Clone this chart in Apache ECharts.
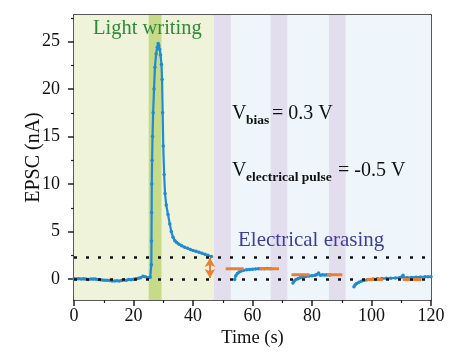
<!DOCTYPE html>
<html><head><meta charset="utf-8">
<script src="https://cdn.jsdelivr.net/npm/echarts@6/dist/echarts.min.js"></script>
<style>html,body{margin:0;padding:0;background:#fff}#c{width:450px;height:353px}</style>
</head><body><div id="c"></div>
<script>
// ---- data ----
const writingTime = [0,0.8,1.6,2.4,3.2,4,4.8,5.6,6.4,7.2,8,8.8,9.6,10.4,11.2,12,12.8,13.6,14.4,15.2,16,16.8,17.6,18.4,19.2,20,20.8,21.6,22.4,23.2,24,24.8,25.6,
  26.0,26.05,26.1,26.15,26.25,26.4,26.6,26.9,27.2,27.6,28.0,28.3,28.5,28.8,29.1,29.4,29.6,29.8,30.0,30.3,30.6,31.0,31.6,32.2,32.7,33.3,33.9,34.5,35.3,36.2,37.2,38.2,39.1,40,41,42,43,44,45,46.2];
const writingEPSC = [0.05,0.02,0.05,0,0.03,0,-0.03,0,0.02,0,-0.05,-0.08,-0.1,-0.12,-0.12,-0.15,-0.2,-0.2,-0.18,-0.2,-0.15,-0.1,-0.12,-0.05,-0.08,-0.02,0.03,0.08,0.15,0.3,0.25,0.15,0.2,
  1.5,4,7,10,12.5,15,17.5,20,22.3,23.7,24.4,24.8,24.6,24.2,23.6,22.6,21.0,17.5,14.0,11.0,9.0,7.8,6.8,5.8,5.0,4.4,4.05,3.85,3.68,3.5,3.35,3.24,3.12,3.0,2.92,2.82,2.72,2.62,2.5,2.38];
const erase1Time = [54.0,54.4,54.9,55.5,56.2,57,58,59,60,61,62,63,64,65,66];
const erase1EPSC = [-0.05,0.35,0.6,0.75,0.85,0.93,0.98,1.02,1.05,1.07,1.08,1.1,1.1,1.12,1.1];
const erase2Time = [73.6,74,74.6,75.3,76,77,78,79,80,81,81.5,82.2,82.8,83.5,84.3,85,86];
const erase2EPSC = [-0.4,-0.2,-0.05,0.05,0.15,0.22,0.28,0.32,0.36,0.4,0.45,0.65,0.4,0.45,0.42,0.45,0.42];
const erase3Time = [94.1,94.5,95,95.8,96.6,97.5,98.5,99.5,100.5,102,103.5,105,106.5,108,109.5,110.2,110.6,111,112,113.5,115,116.5,118,119,120];
const erase3EPSC = [-0.8,-0.6,-0.45,-0.32,-0.22,-0.15,-0.08,-0.03,0,0.03,0.06,0.08,0.1,0.12,0.15,0.25,0.4,0.15,0.15,0.18,0.2,0.22,0.25,0.25,0.25];
// fitted plateau levels: [start, end, level]
const fitSegments = [[51,57,1.1],[62.4,68.9,1.1],[73.1,79.2,0.45],[85,90.2,0.45],[98.3,103.8,-0.05],[110.5,116.8,-0.05]];
const refLevels = [0, 2.35];
const arrowTime = 45.7, arrowFrom = 0.12, arrowTo = 2.22;
const writingRegion = [0, 47];
const lightPulse = [25.1, 29.4];
const erasingRegion = [47, 120];
const electricPulses = [[47,52.7],[66.1,71.7],[85.7,91.3]];
const yMajorTicks = [0,5,10,15,20,25];
const yMinorTicks = [2.5,7.5,12.5,17.5,22.5,27.5];

const FONT = '"Liberation Serif","Times New Roman",serif';
const BLUE = '#1f8bd4', ORANGE = '#ef7d31';

const zip = (a,b) => a.map((v,i)=>[v,b[i]]);
const segments = [zip(writingTime,writingEPSC), zip(erase1Time,erase1EPSC), zip(erase2Time,erase2EPSC), zip(erase3Time,erase3EPSC)];
const fitData = [];
fitSegments.forEach((s,i)=>{ if(i) fitData.push([null,null]); fitData.push([s[0],s[2]],[s[1],s[2]]); });

const areas = [
  [{xAxis:writingRegion[0], itemStyle:{color:'#eef3d9'}},{xAxis:writingRegion[1]}],
  [{xAxis:erasingRegion[0], itemStyle:{color:'#eef6fb'}},{xAxis:erasingRegion[1]}],
  [{xAxis:lightPulse[0], itemStyle:{color:'#c6da88'}},{xAxis:lightPulse[1]}]
].concat(electricPulses.map(p=>[{xAxis:p[0], itemStyle:{color:'#e2deee'}},{xAxis:p[1]}]));

const series = segments.map((d,i)=>({
  type:'line', data:d, xAxisIndex:0, yAxisIndex:0,
  symbol:'circle', symbolSize:3.5, showSymbol:true, z:3,
  itemStyle:{color:BLUE}, lineStyle:{color:BLUE, width:2.2}, animation:false, silent:true,
  markArea: i===0 ? {silent:true, data:areas, z:1} : undefined
}));
series.push({
  type:'line', data:fitData, connectNulls:false, symbol:'none', z:4, animation:false, silent:true,
  lineStyle:{color:ORANGE, width:3}, itemStyle:{color:ORANGE},
  markLine:{silent:true, symbol:['arrow','arrow'], symbolSize:[8,9], label:{show:false},
    lineStyle:{color:ORANGE, width:2, type:'solid'},
    data:[[{coord:[arrowTime,arrowFrom]},{coord:[arrowTime,arrowTo]}]]}
});
series.push({
  type:'line', data:[], z:5, animation:false, silent:true,
  markLine:{silent:true, symbol:'none', label:{show:false},
    lineStyle:{color:'#111', width:2.5, type:[3,9]},
    data:refLevels.map(v=>({yAxis:v}))}
});

const chart = echarts.init(document.getElementById('c'), null, {renderer:'canvas'});
chart.setOption({
  animation:false,
  grid:{left:74, right:19, top:15, bottom:50},
  xAxis:[{
    type:'value', min:0, max:120, interval:20, position:'bottom',
    name:'Time (s)', nameLocation:'middle', nameGap:29, nameMoveOverlap:false,
    nameTextStyle:{fontFamily:FONT, fontSize:18.5, color:'#111'},
    axisLine:{onZero:false, lineStyle:{color:'#222', width:1.5}},
    axisTick:{inside:false, length:6, lineStyle:{color:'#222', width:1.5}},
    minorTick:{show:true, splitNumber:2, length:3, lineStyle:{color:'#222', width:1.2}},
    axisLabel:{fontFamily:FONT, fontSize:18, color:'#111', margin:7},
    splitLine:{show:false}
  },{
    type:'value', min:0, max:120, position:'top',
    axisLine:{onZero:false, lineStyle:{color:'#222', width:1.5}},
    axisTick:{show:false}, axisLabel:{show:false}, splitLine:{show:false}
  }],
  yAxis:[{
    type:'value', min:-2.2, max:27.8, position:'left',
    name:'EPSC (nA)', nameLocation:'middle', nameGap:30, nameRotate:90, nameMoveOverlap:false,
    nameTextStyle:{fontFamily:FONT, fontSize:20, color:'#111'},
    axisLine:{onZero:false, lineStyle:{color:'#222', width:1.5}},
    axisTick:{inside:false, length:6, customValues:yMajorTicks, lineStyle:{color:'#222', width:1.5}},
    axisLabel:{fontFamily:FONT, fontSize:18, color:'#111', margin:14, customValues:yMajorTicks},
    splitLine:{show:false}
  },{
    type:'value', min:-2.2, max:27.8, position:'left',
    axisLine:{show:false}, axisLabel:{show:false}, splitLine:{show:false},
    axisTick:{show:true, length:3, customValues:yMinorTicks, lineStyle:{color:'#222', width:1.2}}
  },{
    type:'value', min:-2.2, max:27.8, position:'right',
    axisLine:{onZero:false, lineStyle:{color:'#222', width:1.5}},
    axisTick:{show:false}, axisLabel:{show:false}, splitLine:{show:false}
  }],
  series:series,
  graphic:[
    {type:'text', x:93, y:29, z:10, style:{text:'Light writing', fontFamily:FONT, fontSize:20.5, fill:'#2f8a3c', verticalAlign:'middle'}},
    {type:'text', x:238, y:240, z:10, style:{text:'Electrical erasing', fontFamily:FONT, fontSize:21, fill:'#3d3d9e', verticalAlign:'middle'}},
    {type:'text', x:232, y:114, z:10, style:{text:'V', fontFamily:FONT, fontSize:20, fill:'#111', verticalAlign:'middle'}},
    {type:'text', x:246, y:121, z:10, style:{text:'bias', fontFamily:FONT, fontSize:13.5, fontWeight:'bold', fill:'#111', verticalAlign:'middle'}},
    {type:'text', x:272, y:114, z:10, style:{text:'= 0.3 V', fontFamily:FONT, fontSize:20, fill:'#111', verticalAlign:'middle'}},
    {type:'text', x:232, y:171, z:10, style:{text:'V', fontFamily:FONT, fontSize:20, fill:'#111', verticalAlign:'middle'}},
    {type:'text', x:246, y:178, z:10, style:{text:'electrical pulse', fontFamily:FONT, fontSize:13.5, fontWeight:'bold', fill:'#111', verticalAlign:'middle'}},
    {type:'text', x:338, y:171, z:10, style:{text:'= -0.5 V', fontFamily:FONT, fontSize:20, fill:'#111', verticalAlign:'middle'}}
  ]
});
</script>
</body></html>
